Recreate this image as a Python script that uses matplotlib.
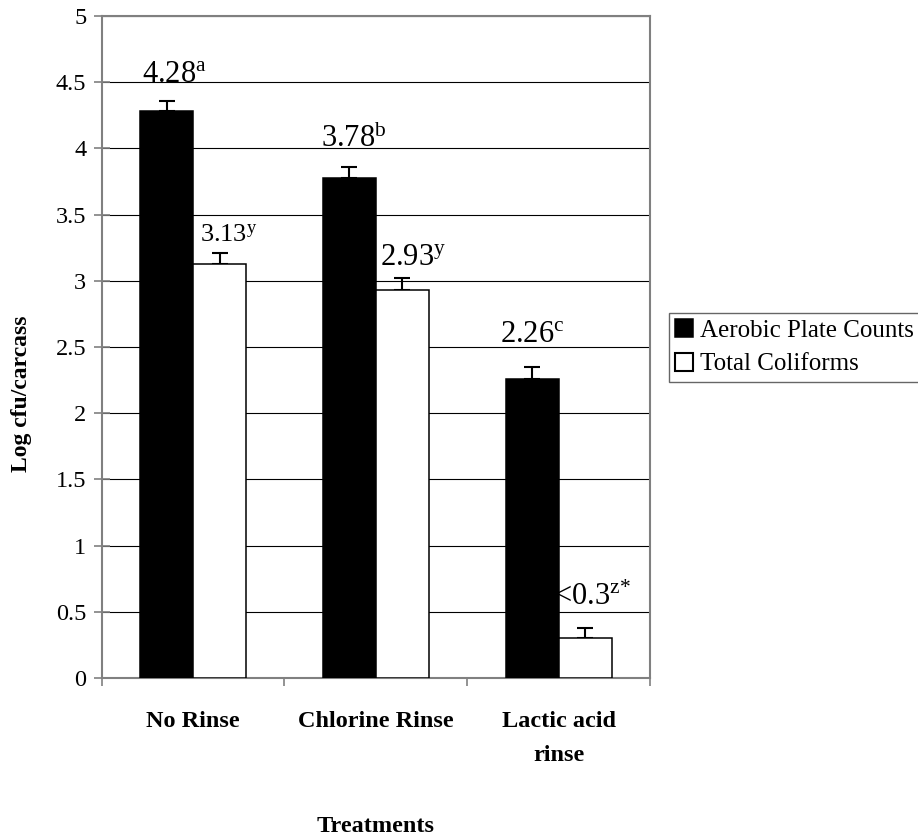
import matplotlib
matplotlib.use("Agg")
import matplotlib.pyplot as plt
import numpy as np
from matplotlib.ticker import FuncFormatter, FixedLocator
from matplotlib.patches import Patch

categories = ["No Rinse", "Chlorine Rinse", "Lactic acid\nrinse"]
aerobic = [4.28, 3.78, 2.26]
coliforms = [3.13, 2.93, 0.30]
aerobic_err = [0.08, 0.08, 0.09]
coliforms_err = [0.08, 0.09, 0.08]
aerobic_labels = [r"4.28$^{\mathrm{a}}$", r"3.78$^{\mathrm{b}}$", r"2.26$^{\mathrm{c}}$"]
coliform_labels = [r"3.13$^{\mathrm{y}}$", r"2.93$^{\mathrm{y}}$", r"<0.3$^{\mathrm{z}{*}}$"]
series_names = ["Aerobic Plate Counts", "Total Coliforms"]
yticks = [0, 0.5, 1, 1.5, 2, 2.5, 3, 3.5, 4, 4.5, 5]

# label layout (offsets in points from the top of the error bar, font sizes)
aerobic_label_offsets = [(5.8, 18.7), (3.2, 20), (0.4, 23)]
coliform_label_offsets = [(6.5, 12.5), (7.6, 15), (5, 22)]
aerobic_label_sizes = [22, 22, 22]
coliform_label_sizes = [19, 22, 22]

plt.rcParams["font.family"] = ["Liberation Serif", "DejaVu Serif"]
plt.rcParams["mathtext.fontset"] = "custom"
plt.rcParams["mathtext.rm"] = "Liberation Serif"
plt.rcParams["mathtext.it"] = "Liberation Serif:italic"
plt.rcParams["mathtext.bf"] = "Liberation Serif:bold"

W, H = 918, 839
fig = plt.figure(figsize=(W / 100, H / 100), dpi=100)
ax = fig.add_axes([101.7 / W, 1 - 678 / H, (650 - 101.7) / W, (678 - 16) / H])

x = np.arange(len(categories))
bw = 0.29
ax.bar(x - bw / 2, aerobic, bw, color="black", edgecolor="black", linewidth=1.1, zorder=3,
       label=series_names[0])
ax.bar(x + bw / 2, coliforms, bw, color="white", edgecolor="black", linewidth=1.1, zorder=3,
       label=series_names[1])
ax.errorbar(x - bw / 2, aerobic, yerr=[np.zeros(3), aerobic_err], fmt="none", ecolor="black",
            elinewidth=1.5, capsize=5.5, capthick=1.5, zorder=2)
ax.errorbar(x + bw / 2, coliforms, yerr=[np.zeros(3), coliforms_err], fmt="none", ecolor="black",
            elinewidth=1.5, capsize=5.5, capthick=1.5, zorder=2)

for xi, v, e, lab, off, fs in zip(x - bw / 2, aerobic, aerobic_err, aerobic_labels,
                                  aerobic_label_offsets, aerobic_label_sizes):
    ax.annotate(lab, (xi, v + e), xytext=off, textcoords="offset points",
                ha="center", va="center", fontsize=fs, zorder=5)
for xi, v, e, lab, off, fs in zip(x + bw / 2, coliforms, coliforms_err, coliform_labels,
                                  coliform_label_offsets, coliform_label_sizes):
    ax.annotate(lab, (xi, v + e), xytext=off, textcoords="offset points",
                ha="center", va="center", fontsize=fs, zorder=5)

ax.set_xlim(-0.5, len(categories) - 0.5)
ax.set_ylim(0, 5)
ax.set_yticks(yticks)
ax.yaxis.set_major_formatter(FuncFormatter(lambda v, p: f"{v:g}"))
ax.yaxis.grid(True, color="black", linewidth=0.8, zorder=0)
ax.set_axisbelow(True)

ax.xaxis.set_major_locator(FixedLocator(np.arange(-0.5, len(categories), 1.0)))
ax.xaxis.set_minor_locator(FixedLocator(x))
ax.set_xticklabels([])
ax.set_xticklabels(categories, minor=True, fontsize=17.5, fontweight="bold",
                   linespacing=1.85, va="top")
ax.tick_params(axis="x", which="major", direction="out", length=6, width=1.2, color="#808080")
ax.tick_params(axis="x", which="minor", length=0, pad=23.5)
ax.tick_params(axis="y", which="major", direction="inout", length=12, width=1.2, color="#808080",
               labelsize=17.5, pad=5)

for s in ax.spines.values():
    s.set_color("#808080")
    s.set_linewidth(1.5)

ax.set_xlabel("Treatments", fontsize=17.5, fontweight="bold")
ax.xaxis.set_label_coords(0.5, (678 - 826) / (678 - 16))
ax.xaxis.label.set_va("center")
ax.set_ylabel("Log cfu/carcass", fontsize=17, fontweight="bold")
ax.yaxis.set_label_coords((22 - 101.7) / (650 - 101.7), (678 - 394) / (678 - 16))
ax.yaxis.label.set_va("center")

handles = [Patch(facecolor="black", edgecolor="black", linewidth=1.1),
           Patch(facecolor="white", edgecolor="black", linewidth=1.5)]
leg = fig.legend(handles, series_names, loc="upper left",
                 bbox_to_anchor=(669 / W, 1 - 313 / H), bbox_transform=fig.transFigure,
                 fontsize=18, frameon=True, fancybox=False, shadow=False,
                 handlelength=0.7, handleheight=0.7, handletextpad=0.3,
                 borderpad=0.25, labelspacing=0.45, borderaxespad=0)
leg.get_frame().set_edgecolor("#404040")
leg.get_frame().set_linewidth(1.0)

fig.savefig("out.png", dpi=100)
